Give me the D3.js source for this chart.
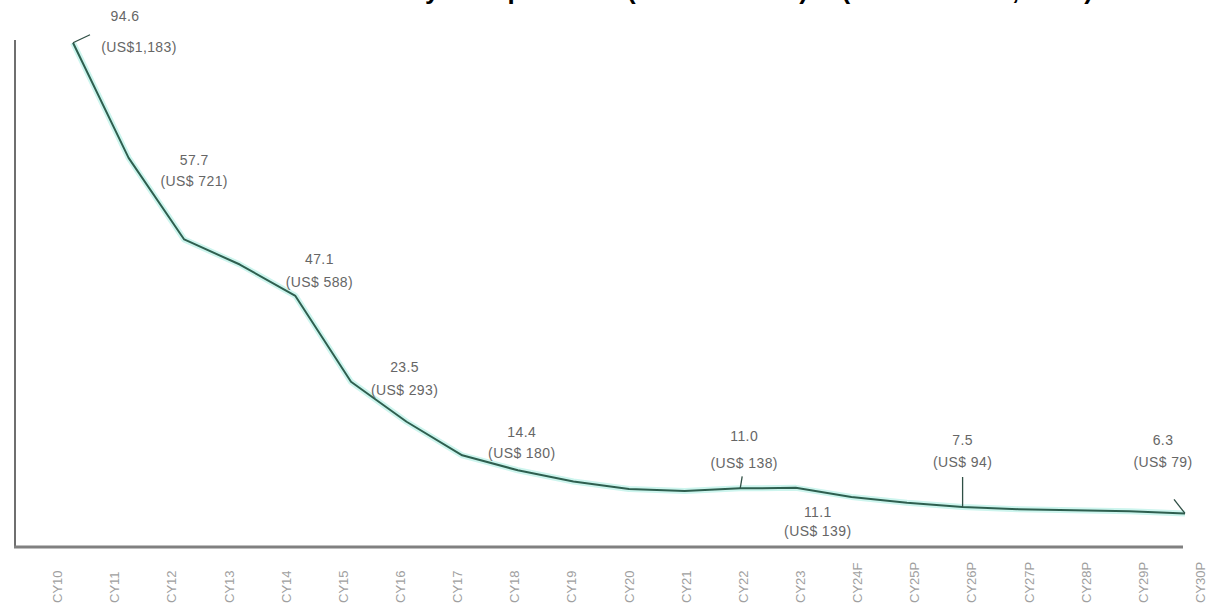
<!DOCTYPE html>
<html>
<head>
<meta charset="utf-8">
<script src="https://cdn.jsdelivr.net/npm/d3@7"></script>
<style>
    html, body { margin: 0; padding: 0; background: #ffffff; }
    #chart { width: 1207px; height: 606px; overflow: hidden; }
</style>
</head>
<body>
<div id="chart"></div>
<script>
// categories on the x axis
var categories = ["CY10", "CY11", "CY12", "CY13", "CY14", "CY15", "CY16", "CY17", "CY18", "CY19", "CY20",
    "CY21", "CY22", "CY23", "CY24F", "CY25P", "CY26P", "CY27P", "CY28P", "CY29P", "CY30P"];
// price series (INR '000 per kWh)
var priceValues = [94.6, 73.0, 57.7, 53.0, 47.1, 31.0, 23.5, 17.2, 14.4, 12.3, 10.9,
    10.5, 11.0, 11.1, 9.4, 8.3, 7.5, 7.1, 6.9, 6.7, 6.3];
// points that carry a data label and their US$ equivalents
var labelCategories = ["CY10", "CY12", "CY14", "CY16", "CY18", "CY22", "CY23", "CY26P", "CY30P"];
var labelUsd = ["US$1,183", "US$ 721", "US$ 588", "US$ 293", "US$ 180", "US$ 138", "US$ 139", "US$ 94", "US$ 79"];
// title pieces (only their lower edge shows in the picture)
var titleParts = ["Battery cost per kWh", "(INR '000/kWh)", "(in US Dollars, 2023)"];

var width = 1207, height = 606;

// where each label sits relative to its point (dx, dy of first line, dy of second line, leader)
var labelLayout = {
    "CY10": {dx: 66, dy1: -22, dy2: 9, dx1: 52, leader: [[0, 0], [17, -8]]},
    "CY12": {dx: 10, dy1: -74, dy2: -53},
    "CY14": {dx: 24, dy1: -32, dy2: -9},
    "CY16": {dx: -2, dy1: -50, dy2: -27},
    "CY18": {dx: 4, dy1: -33, dy2: -12},
    "CY22": {dx: 4, dy1: -47, dy2: -20, leader: [[0, 0], [2, -12]]},
    "CY23": {dx: 22, dy1: 29, dy2: 48},
    "CY26P": {dx: 0, dy1: -62, dy2: -40, leader: [[0, 0], [0, -30]]},
    "CY30P": {dx: -22, dy1: -68, dy2: -46, leader: [[0, 0], [-11, -14]]}
};

var svg = d3.select("#chart").append("svg")
    .attr("width", width)
    .attr("height", height);

// title, mostly cut off at the top of the picture
var titleEnds = [610, 808, 1093];
var title = svg.append("text")
    .attr("y", -1)
    .attr("text-anchor", "end")
    .style("font-family", "Liberation Sans, Arial, sans-serif")
    .style("font-weight", "bold")
    .style("font-size", "26px");
titleParts.forEach(function (t, i) {
    title.append("tspan").attr("x", titleEnds[i]).attr("y", -1).text(t);
});

// scales
var x = d3.scalePoint().domain(categories).range([73, 1185]);
var xLabels = d3.scalePoint().domain(categories).range([57, 1200]);
var y = d3.scaleLinear().domain([0, 100]).range([547, 14]);

// y axis line
svg.append("line")
    .attr("x1", 15).attr("x2", 15)
    .attr("y1", 40).attr("y2", 547)
    .style("stroke", "#6f6f6f")
    .style("stroke-width", 2);

// x axis with rotated category labels
var xAxis = d3.axisBottom(xLabels).tickSize(0).tickPadding(0);
var xAxisGroup = svg.append("g").attr("transform", "translate(0,547)").call(xAxis);
xAxisGroup.select(".domain").remove();
xAxisGroup.selectAll("text")
    .attr("transform", "translate(0,56) rotate(-90)")
    .attr("x", 0).attr("y", 0).attr("dy", "0.35em")
    .style("text-anchor", "start")
    .style("font-family", "Liberation Sans, Arial, sans-serif")
    .style("font-size", "13px")
    .style("fill", "#a0a0a0");

svg.append("line")
    .attr("x1", 14).attr("x2", 1183)
    .attr("y1", 547).attr("y2", 547)
    .style("stroke", "#808080")
    .style("stroke-width", 3);

var lineGen = d3.line()
    .x(function (d, i) { return x(categories[i]); })
    .y(function (d) { return y(d); });

// soft halo under the line
svg.append("path")
    .datum(priceValues)
    .attr("d", lineGen)
    .style("fill", "none")
    .style("stroke", "#cdf5ee")
    .style("stroke-width", 6)
    .style("stroke-linejoin", "round");

svg.append("path")
    .datum(priceValues)
    .attr("d", lineGen)
    .style("fill", "none")
    .style("stroke", "#2e5f4f")
    .style("stroke-width", 2)
    .style("stroke-linejoin", "round");

// data labels
labelCategories.forEach(function (cat, i) {
    var idx = categories.indexOf(cat);
    var px = x(cat), py = y(priceValues[idx]);
    var lay = labelLayout[cat];

    if (lay.leader) {
        svg.append("path")
            .attr("d", d3.line()(lay.leader.map(function (p) { return [px + p[0], py + p[1]]; })))
            .style("fill", "none")
            .style("stroke", "#2f4f45")
            .style("stroke-width", 1.3);
    }

    var g = svg.append("g")
        .style("font-family", "Liberation Sans, Arial, sans-serif")
        .style("font-size", "14px")
        .style("letter-spacing", "0.4px")
        .style("fill", "#666666")
        .attr("text-anchor", "middle");

    g.append("text")
        .attr("x", px + (lay.dx1 !== undefined ? lay.dx1 : lay.dx))
        .attr("y", py + lay.dy1)
        .text(priceValues[idx].toFixed(1));

    g.append("text")
        .attr("x", px + lay.dx)
        .attr("y", py + lay.dy2)
        .text("(" + labelUsd[i] + ")");
});
</script>
</body>
</html>
